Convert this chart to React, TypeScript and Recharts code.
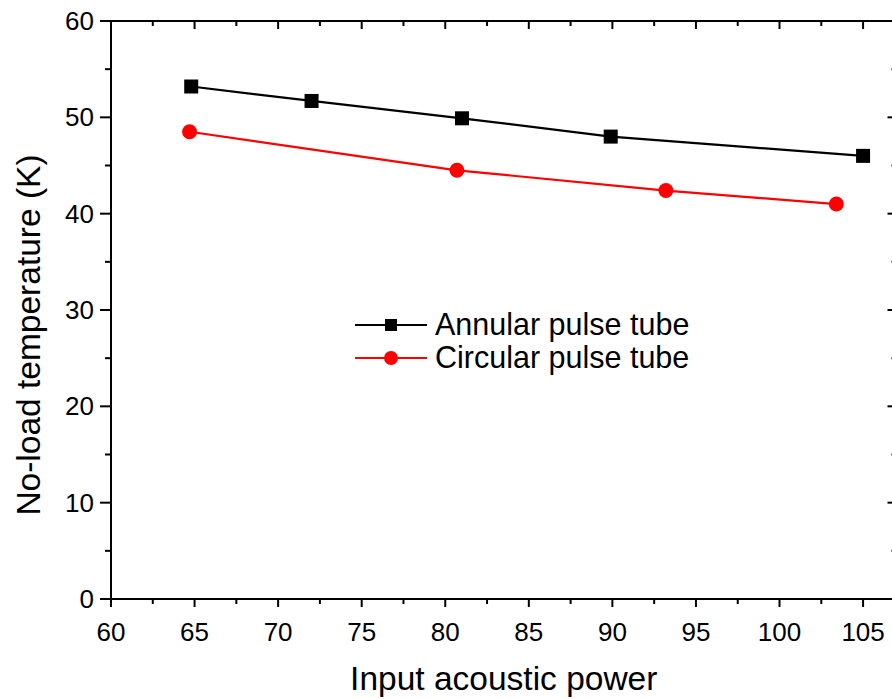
import React from "react";
import { LineChart, Line, XAxis, YAxis, Label } from "recharts";

const annularX = [64.8, 72.0, 81.0, 89.9, 105.0];
const annularY = [53.2, 51.7, 49.9, 48.0, 46.0];
const circularX = [64.7, 80.7, 93.2, 103.4];
const circularY = [48.5, 44.5, 42.4, 41.0];

const xTicks = [60, 62.5, 65, 67.5, 70, 72.5, 75, 77.5, 80, 82.5, 85, 87.5, 90, 92.5, 95, 97.5, 100, 102.5, 105];
const yTicks = [0, 5, 10, 15, 20, 25, 30, 35, 40, 45, 50, 55, 60];
const xDomain = [60, 107];
const yDomain = [0, 60];

const seriesNames = ["Annular pulse tube", "Circular pulse tube"];
const seriesColors = ["#000000", "#ff0000"];

const annularData = annularX.map((x, i) => ({ x, y: annularY[i] }));
const circularData = circularX.map((x, i) => ({ x, y: circularY[i] }));

const FONT = '"Liberation Sans", Arial, sans-serif';

const CHART_W = 900;
const CHART_H = 699;
const MARGIN = { top: 21, right: 2.5, left: 0, bottom: 0 };
const Y_AXIS_W = 111;
const RIGHT_AXIS_W = 1;
const X_AXIS_H = 100;
const PLOT_LEFT = MARGIN.left + Y_AXIS_W;
const PLOT_RIGHT = CHART_W - MARGIN.right - RIGHT_AXIS_W;
const PLOT_TOP = MARGIN.top;

const BottomTick = (props: any) => {
  const { x, y, payload } = props;
  const major = payload.value % 5 === 0;
  return (
    <g>
      <line x1={x} y1={y} x2={x} y2={y + (major ? 8 : 5)} stroke="#000" strokeWidth={2} />
      {major && (
        <text x={x} y={y + 42} textAnchor="middle" fontSize={26} fontFamily={FONT} fill="#000">
          {payload.value}
        </text>
      )}
    </g>
  );
};

const LeftTick = (props: any) => {
  const { x, y, payload } = props;
  const major = payload.value % 10 === 0;
  return (
    <g>
      <line x1={x} y1={y} x2={x - (major ? 11 : 6)} y2={y} stroke="#000" strokeWidth={2} />
      {major && (
        <text x={x - 17} y={y + 9} textAnchor="end" fontSize={26} fontFamily={FONT} fill="#000">
          {payload.value}
        </text>
      )}
    </g>
  );
};

const RightTick = (props: any) => {
  const { x, y, payload } = props;
  const major = payload.value % 10 === 0;
  return <line x1={x} y1={y} x2={x - (major ? 9 : 5)} y2={y} stroke="#000" strokeWidth={2} />;
};

const SquareDot = (props: any) => {
  const { cx, cy, key } = props;
  if (cx == null || cy == null) return <g key={key} />;
  return <rect key={key} x={cx - 7} y={cy - 7} width={14} height={14} fill="#000" />;
};

const CircleDot = (props: any) => {
  const { cx, cy, key } = props;
  if (cx == null || cy == null) return <g key={key} />;
  return <circle key={key} cx={cx} cy={cy} r={7.5} fill="#ff0000" />;
};

// Top frame of the plot box (axis decoration), placed with the same layout constants as the chart
const TopFrame = () => {
  const scaleX = (v: number) =>
    PLOT_LEFT + ((v - xDomain[0]) / (xDomain[1] - xDomain[0])) * (PLOT_RIGHT - PLOT_LEFT);
  return (
    <svg
      width={CHART_W}
      height={40}
      style={{ position: "absolute", left: 0, top: 0, display: "block", pointerEvents: "none" }}
    >
      <line x1={PLOT_LEFT - 1} y1={PLOT_TOP} x2={PLOT_RIGHT} y2={PLOT_TOP} stroke="#000" strokeWidth={2} />
      {xTicks.map((t) => {
        const x = scaleX(t);
        const major = t % 5 === 0;
        return (
          <line key={t} x1={x} y1={PLOT_TOP} x2={x} y2={PLOT_TOP + (major ? 8 : 5)} stroke="#000" strokeWidth={2} />
        );
      })}
    </svg>
  );
};

const LegendBox = () => (
  <svg width={380} height={70} style={{ position: "absolute", left: 355, top: 308, display: "block" }}>
    {seriesNames.map((name, i) => {
      const cy = 17 + i * 33;
      return (
        <g key={name}>
          <line x1={0} y1={cy} x2={72} y2={cy} stroke={seriesColors[i]} strokeWidth={2.2} />
          {i === 0 ? (
            <rect x={30} y={cy - 6} width={12} height={12} fill={seriesColors[i]} />
          ) : (
            <circle cx={36} cy={cy} r={7} fill={seriesColors[i]} />
          )}
          <text x={80} y={cy + 10} fontSize={30.5} fontFamily={FONT} fill="#000">
            {name}
          </text>
        </g>
      );
    })}
  </svg>
);

const YTitle = (props: any) => {
  const vb = props.viewBox;
  const cx = 28;
  const cy = vb.y + vb.height / 2 + 25;
  return (
    <text
      x={cx}
      y={cy}
      transform={`rotate(-90, ${cx}, ${cy})`}
      textAnchor="middle"
      dominantBaseline="central"
      fontSize={33.5}
      fontFamily={FONT}
      fill="#000"
    >
      No-load temperature (K)
    </text>
  );
};

export default function App() {
  return (
    <div style={{ position: "absolute", left: 0, top: 0, width: 892, height: 699, overflow: "hidden", background: "#fff" }}>
      <LineChart width={CHART_W} height={CHART_H} margin={MARGIN}>
        <XAxis
          xAxisId={0}
          type="number"
          dataKey="x"
          domain={xDomain}
          ticks={xTicks}
          interval={0}
          height={X_AXIS_H}
          tickSize={0}
          tickMargin={0}
          tickLine={false}
          axisLine={{ stroke: "#000", strokeWidth: 2 }}
          tick={<BottomTick />}
          allowDataOverflow
        >
          <Label
            value="Input acoustic power"
            position="insideBottom"
            offset={9}
            style={{ fontSize: 33.5, fontFamily: FONT, fill: "#000" }}
          />
        </XAxis>
        <YAxis
          yAxisId={0}
          type="number"
          domain={yDomain}
          ticks={yTicks}
          interval={0}
          width={Y_AXIS_W}
          tickSize={0}
          tickMargin={0}
          tickLine={false}
          axisLine={{ stroke: "#000", strokeWidth: 2 }}
          tick={<LeftTick />}
          allowDataOverflow
        >
          <Label content={<YTitle />} />
        </YAxis>
        <YAxis
          yAxisId={1}
          orientation="right"
          type="number"
          domain={yDomain}
          ticks={yTicks}
          interval={0}
          width={RIGHT_AXIS_W}
          tickSize={0}
          tickMargin={0}
          tickLine={false}
          axisLine={{ stroke: "#000", strokeWidth: 2 }}
          tick={<RightTick />}
          allowDataOverflow
        />
        <Line
          xAxisId={0}
          yAxisId={1}
          data={annularData}
          dataKey="y"
          stroke="none"
          dot={false}
          activeDot={false}
          legendType="none"
          isAnimationActive={false}
        />
        <Line
          xAxisId={0}
          yAxisId={0}
          data={annularData}
          dataKey="y"
          name={seriesNames[0]}
          stroke={seriesColors[0]}
          strokeWidth={2.2}
          dot={<SquareDot />}
          isAnimationActive={false}
        />
        <Line
          xAxisId={0}
          yAxisId={0}
          data={circularData}
          dataKey="y"
          name={seriesNames[1]}
          stroke={seriesColors[1]}
          strokeWidth={2.2}
          dot={<CircleDot />}
          isAnimationActive={false}
        />
      </LineChart>
      <TopFrame />
      <LegendBox />
    </div>
  );
}
